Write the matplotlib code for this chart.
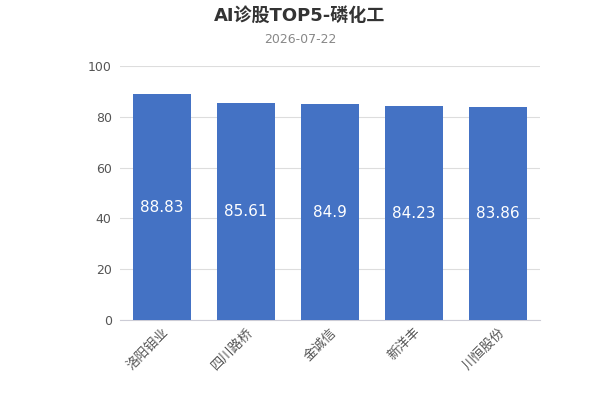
import matplotlib
matplotlib.use("Agg")
import matplotlib.pyplot as plt

plt.rcParams['font.family'] = ['DejaVu Sans', 'Noto Sans CJK SC']

categories = ['洛阳钼业', '四川路桥', '金诚信', '新洋丰', '川恒股份']
values = [88.83, 85.61, 84.9, 84.23, 83.86]
yticks = [0, 20, 40, 60, 80, 100]
title = 'AI诊股TOP5-磷化工'
subtitle = '2026-07-22'

fig = plt.figure(figsize=(6, 4), dpi=100)
ax = fig.add_axes([0.2, 0.2, 0.7, 0.635])
x = list(range(len(categories)))
bars = ax.bar(x, values, width=0.69, color='#4472C4', zorder=3)
for xi, v in zip(x, values):
    ax.text(xi, v / 2, f'{v:g}', ha='center', va='center', color='white', fontsize=11, zorder=4)

ax.set_xlim(-0.5, len(categories) - 0.5)
ax.set_ylim(0, 100)
ax.set_yticks(yticks)
ax.set_xticks(x)
ax.set_xticklabels(categories, rotation=45, ha='right', rotation_mode='anchor', color='#555555', fontsize=9.5)
ax.tick_params(axis='y', length=0, labelcolor='#555555', labelsize=9, pad=6)
ax.tick_params(axis='x', length=0, pad=4)
ax.grid(axis='y', color='#dddddd', linewidth=0.8, zorder=0)
for s in ['left', 'right', 'top']:
    ax.spines[s].set_visible(False)
ax.spines['bottom'].set_color('#ccccd6')

fig.text(0.5, 0.96, title, ha='center', va='center', fontsize=13, fontweight='bold', color='#333333')
fig.text(0.5, 0.902, subtitle, ha='center', va='center', fontsize=9, color='#888888')

fig.savefig('out.png', dpi=100)
